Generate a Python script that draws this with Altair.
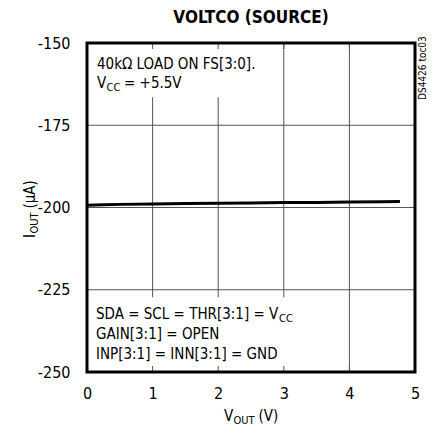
import altair as alt
import pandas as pd

# ---- data ----
vout = [0.0, 0.25, 0.5, 1.0, 1.5, 2.0, 2.5, 3.0, 3.5, 4.0, 4.5, 4.77]
iout = [-199.3, -199.15, -199.05, -198.9, -198.8, -198.7, -198.6, -198.5, -198.45, -198.35, -198.25, -198.2]
x_ticks = [0, 1, 2, 3, 4, 5]
y_ticks = [-150, -175, -200, -225, -250]
x_grid = [1, 2, 3, 4]
y_grid = [-175, -200, -225]

FONT = "DejaVu Sans Condensed, Liberation Sans Narrow, sans-serif"
W, H = 328, 329
GRID = "#555555"
FS = 15
SUB = 11

df = pd.DataFrame({"vout": vout, "iout": iout})

xs = alt.Scale(domain=[0, 5], nice=False)
ys = alt.Scale(domain=[-250, -150], nice=False)

line = alt.Chart(df).mark_line(color="black", strokeWidth=3).encode(
    x=alt.X("vout:Q", scale=xs,
            axis=alt.Axis(values=x_ticks, title=None, grid=False,
                          domain=False, ticks=False, tickSize=0, labelFontSize=16, labelFont=FONT,
                          labelColor="black", labelPadding=13, labelFlush=False,
                          labelExpr="'' + datum.value")),
    y=alt.Y("iout:Q", scale=ys,
            axis=alt.Axis(values=y_ticks, title=None, grid=False,
                          domain=False, ticks=False, tickSize=0, labelFontSize=16, labelFont=FONT,
                          labelColor="black", labelPadding=17, labelFlush=False,
                          labelExpr="'' + datum.value")),
)

vgrid = alt.Chart(pd.DataFrame({"v": x_grid})).mark_rule(color=GRID, strokeWidth=1).encode(
    x=alt.X("v:Q", scale=xs))
hgrid = alt.Chart(pd.DataFrame({"i": y_grid})).mark_rule(color=GRID, strokeWidth=1).encode(
    y=alt.Y("i:Q", scale=ys))

boxes = pd.DataFrame({"x0": [0, 0], "x1": [2.75, 3.25], "y0": [-150, -250], "y1": [-166.5, -227.3]})
white = alt.Chart(boxes).mark_rect(color="white").encode(
    x=alt.X("x0:Q", scale=xs), x2="x1", y=alt.Y("y0:Q", scale=ys), y2="y1")

tk = pd.DataFrame({"v": x_grid})
ticks_top = alt.Chart(tk).mark_rule(color=GRID, strokeWidth=1).encode(
    x=alt.X("v:Q", scale=xs), y=alt.value(0), y2=alt.value(6))
ticks_bot = alt.Chart(tk).mark_rule(color=GRID, strokeWidth=1).encode(
    x=alt.X("v:Q", scale=xs), y=alt.value(H - 6), y2=alt.value(H))


def txt(s, x, y, size=FS, angle=0, weight="normal", align="left"):
    return alt.Chart(pd.DataFrame({"t": [s]})).mark_text(
        font=FONT, fontSize=size, angle=angle, fontWeight=weight, align=align,
        baseline="alphabetic", color="black").encode(
        text="t:N", x=alt.value(x), y=alt.value(y))


texts = [
    txt("VOLTCO (SOURCE)", W / 2, -20, size=17, weight="bold", align="center"),
    txt("40k\u03a9 LOAD ON FS[3:0].", 10, 26),
    txt("V", 10, 45), txt("CC", 19.5, 48, size=SUB), txt("= +5.5V", 37, 45),
    txt("SDA = SCL = THR[3:1] = V", 9, 276), txt("CC", 192, 279, size=SUB),
    txt("GAIN[3:1] = OPEN", 9, 296),
    txt("INP[3:1] = INN[3:1] = GND", 9, 316),
    txt("V", 137, 378), txt("OUT", 146.5, 381, size=SUB), txt("(V)", 171.5, 378),
    txt("I", -52, 195, angle=270), txt("OUT", -49, 190.5, size=SUB, angle=270),
    txt("(\u00b5A)", -52, 165.5, angle=270),
    txt("DS4426 toc03", 339, 57, size=10, angle=270),
]

border = alt.Chart(pd.DataFrame({"a": [0]})).mark_rect(
    fillOpacity=0, stroke="black", strokeWidth=3).encode(
    x=alt.value(0), x2=alt.value(W), y=alt.value(0), y2=alt.value(H))

chart = alt.layer(vgrid, hgrid, line, white, ticks_top, ticks_bot, *texts, border).properties(
    width=W, height=H,
    padding={"left": 79, "top": 35, "right": 13, "bottom": 54},
    autosize=alt.AutoSizeParams(type="none"),
).configure_view(strokeWidth=0).configure_axis(grid=False)

chart.save("out.html", embed_options={"renderer": "svg", "actions": False})
